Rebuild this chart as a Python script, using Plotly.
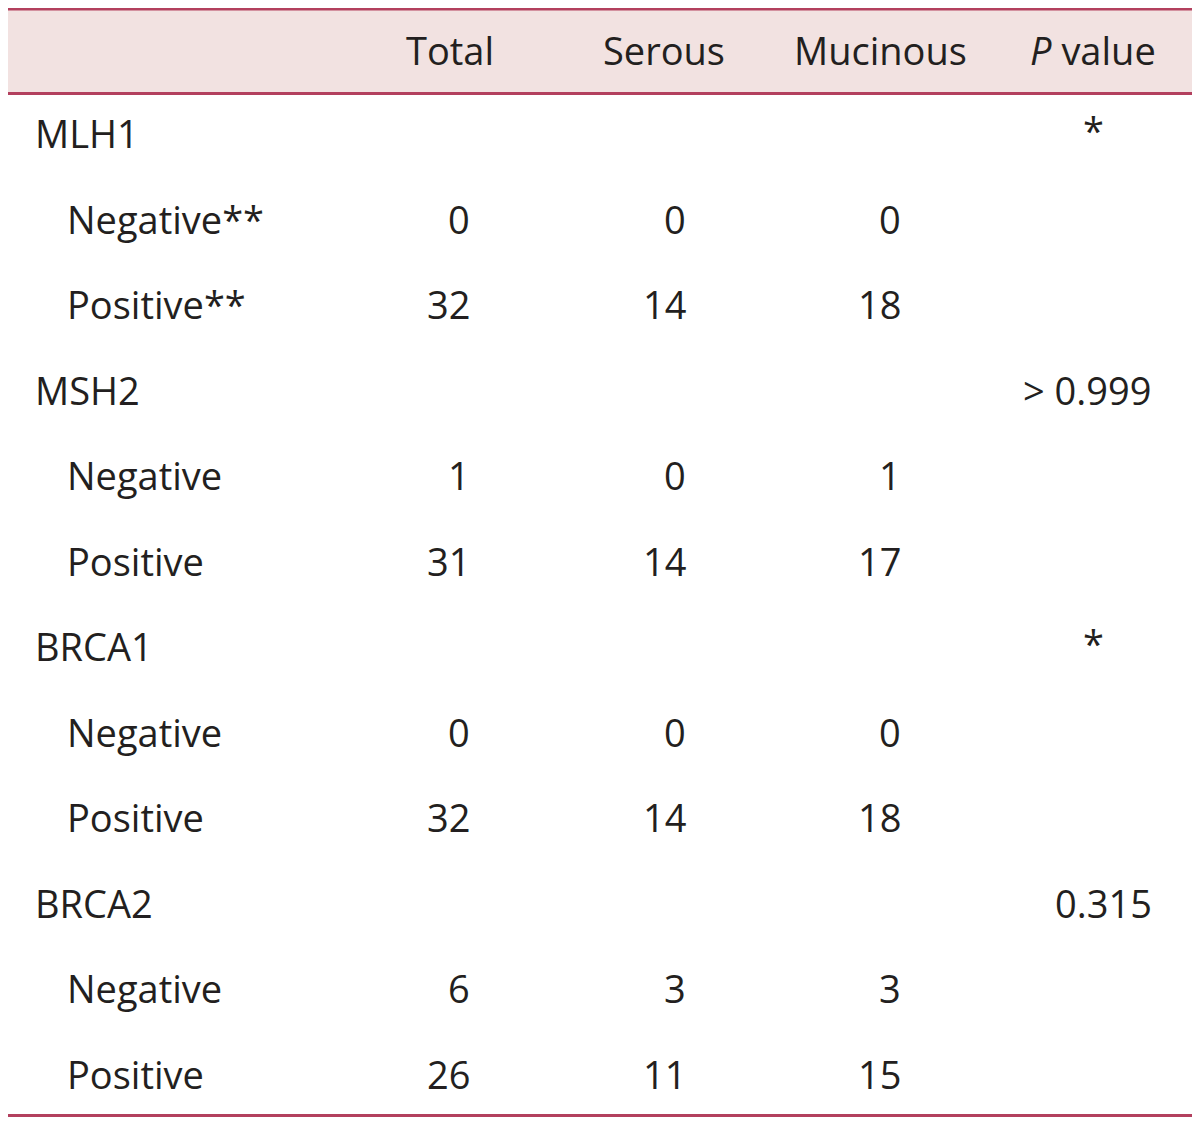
import plotly.graph_objects as go

# ---- data ----
headers = ["Total", "Serous", "Mucinous", "<i>P</i> value"]
groups = ["MLH1", "MSH2", "BRCA1", "BRCA2"]
sub_labels = [["Negative**", "Positive**"], ["Negative", "Positive"],
              ["Negative", "Positive"], ["Negative", "Positive"]]
total = [[0, 32], [1, 31], [0, 32], [6, 26]]
serous = [[0, 14], [0, 14], [0, 14], [3, 11]]
mucinous = [[0, 18], [1, 17], [0, 18], [3, 15]]
pvalues = ["*", "> 0.999", "*", "0.315"]

# ---- layout constants ----
# the page body has an 8px margin; map data coords to page pixels
PAGE_W, PAGE_H = 1200, 1125
OFF = 8
W, H = PAGE_W - 2 * OFF, PAGE_H - 2 * OFF
FONT = "Open Sans"
FS = 38
TXT = "#231f20"
LINE = "#b3405e"
FILL = "#f2e2e1"

header_y = 50
row0_y = 133
row_step = 85.5
x_group = 33
x_sub = 65
x_cols_right = [472, 688, 903]
header_centers = [450, 664, 880]
p_right = 1154
p_head_right = 1158
p_center = 1093

fig = go.Figure()
fig.add_trace(go.Scatter(x=[OFF + 1], y=[OFF + 1], mode="markers", marker=dict(opacity=0),
                         hoverinfo="skip", showlegend=False))

shapes = [
    dict(type="rect", x0=6, x1=1200, y0=9, y1=93, fillcolor=FILL, line=dict(width=0), layer="below"),
    dict(type="line", x0=6, x1=1200, y0=9, y1=9, line=dict(color=LINE, width=3)),
    dict(type="line", x0=6, x1=1200, y0=93.5, y1=93.5, line=dict(color=LINE, width=3)),
    dict(type="line", x0=6, x1=1200, y0=1115.5, y1=1115.5, line=dict(color=LINE, width=3)),
]

ann = []
def add(text, x, y, xanchor):
    ann.append(dict(text=text, x=x, y=y, xref="x", yref="y", xanchor=xanchor, yanchor="middle",
                    showarrow=False, font=dict(family=FONT, size=FS, color=TXT)))

for i, h in enumerate(headers[:3]):
    add(h, header_centers[i], header_y, "center")
add(headers[3], p_head_right, header_y, "right")

row = 0
for g in range(len(groups)):
    y = row0_y + row * row_step
    add(groups[g], x_group, y, "left")
    if pvalues[g] == "*":
        add("*", p_center, y - 3, "center")
    else:
        add(pvalues[g], p_right, y, "right")
    row += 1
    for s in range(2):
        y = row0_y + row * row_step
        add(sub_labels[g][s], x_sub, y, "left")
        for c, arr in enumerate([total, serous, mucinous]):
            add(str(arr[g][s]), x_cols_right[c], y, "right")
        row += 1

fig.update_layout(
    width=W, height=H, margin=dict(l=0, r=0, t=0, b=0),
    paper_bgcolor="white", plot_bgcolor="white",
    xaxis=dict(range=[OFF, OFF + W], visible=False, fixedrange=True),
    yaxis=dict(range=[OFF + H, OFF], visible=False, fixedrange=True),
    shapes=shapes, annotations=ann, showlegend=False,
)
fig.write_html("out.html")
